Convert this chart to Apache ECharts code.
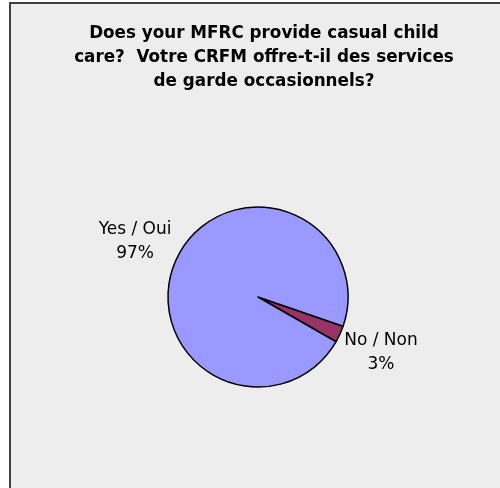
<!DOCTYPE html>
<html>
<head>
<meta charset="utf-8">
<script src="https://cdn.jsdelivr.net/npm/echarts@6/dist/echarts.min.js"></script>
<style>html,body{margin:0;padding:0;background:#fff;}#c{width:500px;height:488px;}</style>
</head>
<body>
<div id="c"></div>
<script>
var titleText = "Does your MFRC provide casual child\ncare?  Votre CRFM offre-t-il des services\nde garde occasionnels?";
var categories = ["No / Non", "Yes / Oui"];
var values = [3, 97];
var colors = ["#993366", "#9999ff"];

var startAngle = -19;
var cx = 258, cy = 297, R = 90;
var total = values.reduce(function(a, b){ return a + b; }, 0);
var mids = [];
(function(){
  var a = startAngle;
  for (var i = 0; i < values.length; i++) {
    var span = values[i] / total * 360;
    mids.push(a - span / 2);
    a -= span;
  }
})();

var chart = echarts.init(document.getElementById('c'), null, {renderer: 'canvas'});
chart.setOption({
  animation: false,
  backgroundColor: '#ffffff',
  graphic: [{
    type: 'rect', z: -10,
    shape: {x: 10, y: 3, width: 600, height: 600},
    style: {fill: '#ededed', stroke: '#404040', lineWidth: 2}
  }],
  title: {
    text: titleText,
    left: 259, top: 17, textAlign: 'center',
    textStyle: {fontFamily: 'DejaVu Sans', fontWeight: 'bold', fontSize: 16.8, lineHeight: 24, color: '#000'}
  },
  series: [{
    type: 'pie',
    center: [cx, cy],
    radius: R,
    startAngle: startAngle,
    clockwise: true,
    avoidLabelOverlap: false,
    data: categories.map(function(c, i){ return {name: c, value: values[i], itemStyle: {color: colors[i]}}; }),
    itemStyle: {borderColor: '#000', borderWidth: 1.5},
    label: {
      show: true, position: 'outside',
      formatter: function(p){ return p.name + '\n' + Math.round(p.percent) + '%'; },
      fontFamily: 'DejaVu Sans', fontSize: 17, lineHeight: 24, color: '#000'
    },
    labelLine: {show: false},
    emphasis: {disabled: true}
  }]
});
chart.setOption({
  series: [{
    labelLayout: function(p){
      var m = mids[p.dataIndex] * Math.PI / 180;
      var d = 135;
      return {x: cx + d * Math.cos(m), y: cy - d * Math.sin(m), align: 'center', verticalAlign: 'middle'};
    }
  }]
});
</script>
</body>
</html>
